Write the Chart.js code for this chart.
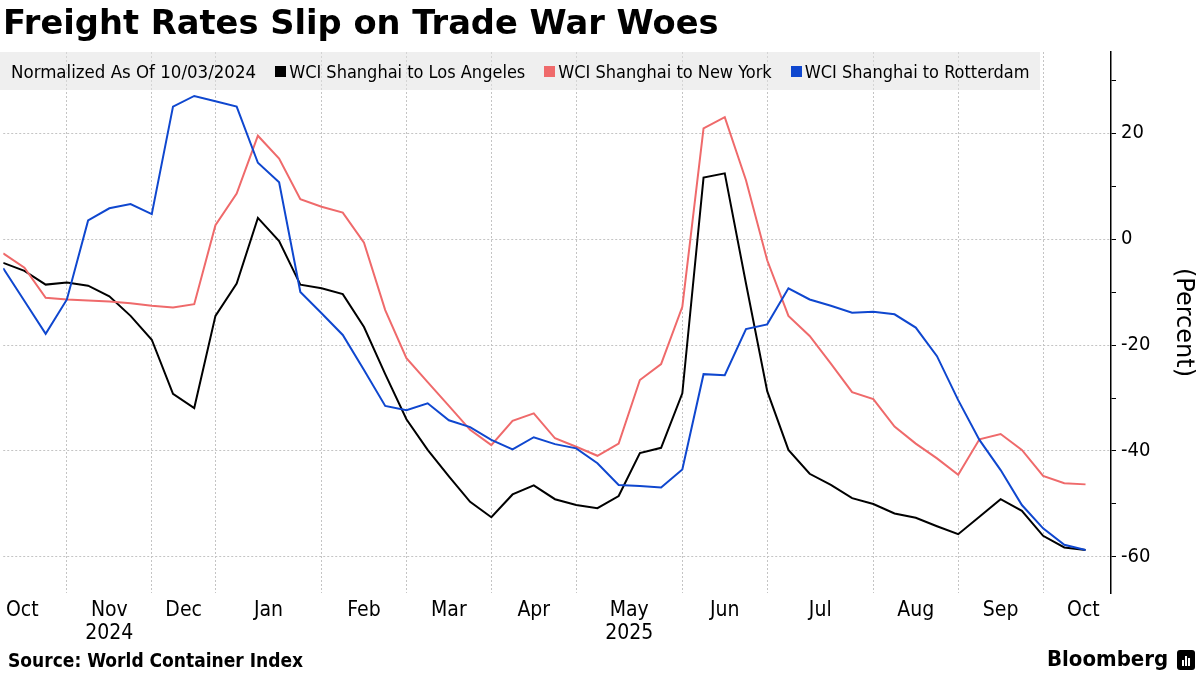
<!DOCTYPE html>
<html>
<head>
<meta charset="utf-8">
<script src="https://cdn.jsdelivr.net/npm/chart.js@4.4.1/dist/chart.umd.min.js"></script>
<style>
  html, body { margin: 0; padding: 0; background: #fff; }
  #wrap { position: relative; width: 1200px; height: 675px; overflow: hidden;
          font-family: 'DejaVu Sans Condensed', 'DejaVu Sans', sans-serif; color: #000; }
  #c { position: absolute; left: 0; top: 0; }
  #title { position: absolute; left: 3px; top: 6px; font: bold 33.7px/1 'DejaVu Sans', sans-serif;
           white-space: nowrap; }
  #legend { position: absolute; left: 0; top: 52px; height: 38px; box-sizing: border-box;
            background: rgba(226,226,226,0.55); display: flex; align-items: center;
            padding: 0 10px 0 11px; font-size: 18.5px; white-space: nowrap; }
  #legend .item { display: flex; align-items: center; margin-left: 19px; font-size: 18px; }
  #legend .sq { width: 11px; height: 11px; margin-right: 3px; }
  #source { position: absolute; left: 8px; top: 649px; font-weight: bold; font-size: 19px; white-space: nowrap; }
  #brand { position: absolute; left: 1047px; top: 646px; font-weight: bold; font-size: 22px; white-space: nowrap; }
  #logo { position: absolute; left: 1177px; top: 650px; width: 18px; height: 20px; background: #000; border-radius: 3px; }
  #logo i { position: absolute; bottom: 4px; width: 2px; background: #fff; }
</style>
</head>
<body>
<div id="wrap">
  <canvas id="c" width="1200" height="675"></canvas>
  <div id="title">Freight Rates Slip on Trade War Woes</div>
  <div id="legend"></div>
  <div id="source">Source: World Container Index</div>
  <div id="brand">Bloomberg</div>
  <div id="logo"><i style="left:5px;height:6px"></i><i style="left:8px;height:10px"></i><i style="left:11px;height:8px"></i></div>
</div>
<script>
// ---- data ----
const legendNote = 'Normalized As Of 10/03/2024';
const weeks = [
  '2024-10-17','2024-10-24','2024-10-31','2024-11-07','2024-11-14','2024-11-21','2024-11-28',
  '2024-12-05','2024-12-12','2024-12-19','2025-01-02','2025-01-09','2025-01-16','2025-01-23',
  '2025-01-30','2025-02-06','2025-02-13','2025-02-20','2025-02-27','2025-03-06','2025-03-13',
  '2025-03-20','2025-03-27','2025-04-03','2025-04-10','2025-04-17','2025-04-24','2025-05-01',
  '2025-05-08','2025-05-15','2025-05-22','2025-05-29','2025-06-05','2025-06-12','2025-06-19',
  '2025-06-26','2025-07-03','2025-07-10','2025-07-17','2025-07-24','2025-07-31','2025-08-07',
  '2025-08-14','2025-08-21','2025-08-28','2025-09-04','2025-09-11','2025-09-18','2025-09-25',
  '2025-10-02','2025-10-09','2025-10-16'
];
const seriesNames = ['WCI Shanghai to Los Angeles', 'WCI Shanghai to New York', 'WCI Shanghai to Rotterdam'];
const losAngeles = [
  -4.5, -6.0, -8.6, -8.2, -8.8, -10.8, -14.5, -19.0, -29.2, -31.9,
  -14.5, -8.4, 4.0, -0.4, -8.6, -9.3, -10.4, -16.6, -25.5, -34.0,
  -39.8, -44.8, -49.6, -52.5, -48.2, -46.5, -49.1, -50.2, -50.8, -48.5,
  -40.4, -39.4, -29.1, 11.6, 12.4, -8.4, -28.7, -39.8, -44.3, -46.4,
  -48.9, -50.0, -51.8, -52.6, -54.2, -55.7, -52.4, -49.1, -51.3, -56.0,
  -58.2, -58.7
];
const newYork = [
  -2.7, -5.4, -11.1, -11.4, -11.6, -11.8, -12.1, -12.6, -12.9, -12.3,
  2.6, 8.6, 19.5, 15.2, 7.5, 6.1, 5.0, -0.7, -13.4, -22.5,
  -27.0, -31.5, -36.0, -38.9, -34.3, -32.9, -37.6, -39.2, -40.9, -38.6,
  -26.6, -23.6, -12.8, 20.9, 23.0, 11.1, -4.0, -14.5, -18.3, -23.5,
  -28.9, -30.2, -35.4, -38.6, -41.4, -44.5, -37.8, -36.8, -39.8, -44.7,
  -46.1, -46.3
];
const rotterdam = [
  -5.5, -11.7, -17.9, -11.4, 3.5, 5.8, 6.6, 4.7, 25.0, 27.0,
  26.0, 25.0, 14.4, 10.7, -10.0, -14.0, -18.1, -24.7, -31.5, -32.3,
  -31.0, -34.2, -35.5, -37.9, -39.7, -37.4, -38.7, -39.5, -42.3, -46.4,
  -46.6, -46.9, -43.5, -25.5, -25.7, -17.0, -16.1, -9.3, -11.4, -12.6,
  -13.9, -13.7, -14.2, -16.7, -22.1, -30.4, -37.9, -43.6, -50.2, -54.6,
  -57.7, -58.7
];
const monthLabels = [['Oct'], ['Nov', '2024'], ['Dec'], ['Jan'], ['Feb'], ['Mar'], ['Apr'],
                     ['May', '2025'], ['Jun'], ['Jul'], ['Aug'], ['Sep'], ['Oct']];
const monthLabelAt = [0.9, 5, 8.5, 12.5, 17, 21, 25, 29.5, 34, 38.5, 43, 47, 50.9];
const yTickValues = [-60, -50, -40, -30, -20, -10, 0, 10, 20, 30];
const colors = ['#000000', '#ef6a6b', '#0f47cf'];

// ---- derived ----
const monthStartIdx = [];
weeks.forEach((d, i) => { if (i > 0 && d.slice(0, 7) !== weeks[i - 1].slice(0, 7)) monthStartIdx.push(i); });
const toPoints = arr => arr.map((v, i) => ({ x: i, y: v }));
const FONT = "'DejaVu Sans Condensed', 'DejaVu Sans', sans-serif";

// legend (HTML)
const leg = document.getElementById('legend');
const note = document.createElement('span'); note.textContent = legendNote; leg.appendChild(note);
seriesNames.forEach((n, k) => {
  const it = document.createElement('span'); it.className = 'item';
  const sq = document.createElement('span'); sq.className = 'sq'; sq.style.background = colors[k];
  const tx = document.createElement('span'); tx.textContent = n;
  it.appendChild(sq); it.appendChild(tx); leg.appendChild(it);
});

const allSeries = [losAngeles, newYork, rotterdam];
new Chart(document.getElementById('c'), {
  type: 'line',
  data: {
    datasets: allSeries.map((arr, k) => ({
      label: seriesNames[k], data: toPoints(arr), borderColor: colors[k], backgroundColor: colors[k],
      borderWidth: 2, pointRadius: 0, tension: 0, fill: false, order: 3 - k
    }))
  },
  options: {
    responsive: false, animation: false, devicePixelRatio: 1,
    layout: { padding: { top: 52, left: 0, right: 0, bottom: 32 } },
    plugins: { legend: { display: false }, tooltip: { enabled: false }, title: { display: false } },
    scales: {
      x: {
        type: 'linear', min: 0, max: 52.2,
        afterBuildTicks: s => {
          s.ticks = monthStartIdx.map(v => ({ value: v })).concat(monthLabelAt.map(v => ({ value: v })))
                     .sort((a, b) => a.value - b.value);
        },
        afterFit: s => { s.height = 50; },
        grid: {
          color: c => (c.tick && monthStartIdx.includes(c.tick.value)) ? '#c4c4c4' : 'rgba(0,0,0,0)',
          lineWidth: 1, drawTicks: false, borderDash: [2, 2]
        },
        border: { display: false, dash: [2, 2] },
        ticks: {
          autoSkip: false, maxRotation: 0, padding: 6, color: '#000',
          font: { family: FONT, size: 21, lineHeight: 1.1 },
          callback: v => { const k = monthLabelAt.indexOf(v); return k >= 0 ? monthLabels[k] : ''; }
        }
      },
      y: {
        position: 'right', min: -66.8, max: 35.3,
        afterBuildTicks: s => { s.ticks = yTickValues.map(v => ({ value: v })); },
        afterFit: s => { s.width = 89; },
        grid: {
          color: c => (c.tick && c.tick.value % 20 === 0) ? '#c4c4c4' : 'rgba(0,0,0,0)',
          tickColor: '#000', tickLength: 5, drawTicks: true, lineWidth: 1, borderDash: [2, 2]
        },
        border: { display: true, color: '#000', width: 1.5, dash: [2, 2] },
        ticks: {
          padding: 5, color: '#000', font: { family: FONT, size: 20 },
          callback: v => (v % 20 === 0 ? String(v) : '')
        },
        title: {
          display: true, text: '(Percent)', color: '#000',
          font: { family: "'DejaVu Sans', sans-serif", size: 24, lineHeight: 1.2 }, padding: { top: 2, bottom: 0 }
        }
      }
    }
  }
});
</script>
</body>
</html>
